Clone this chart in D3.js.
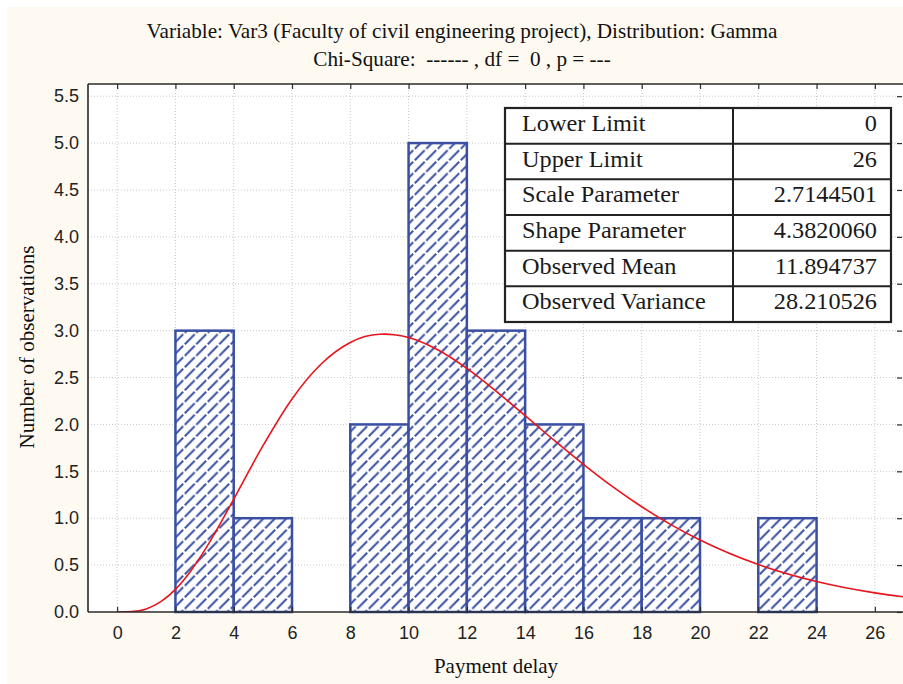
<!DOCTYPE html>
<html><head><meta charset="utf-8">
<script src="https://cdn.jsdelivr.net/npm/d3@7"></script>
<style>body{margin:0;background:#fff}svg{display:block}text{white-space:pre}</style>
</head><body><svg id="c" width="903" height="684"></svg>
<script>
const binStart=[2,4,8,10,12,14,16,18,22];
const binEnd=[4,6,10,12,14,16,18,20,24];
const counts=[3,1,2,5,3,2,1,1,1];
const curveX=[0,0.5,1,1.5,2,2.5,3,3.5,4,5,6,7,8,8.5,9,9.2,9.5,10,11,12,13,14,15,16,17,18,19,20,22,24,26,27];
const curveY=[0,0.004,0.033,0.110,0.241,0.427,0.657,0.921,1.204,1.771,2.272,2.644,2.874,2.937,2.962,2.963,2.957,2.927,2.796,2.597,2.355,2.093,1.829,1.574,1.336,1.122,0.932,0.767,0.506,0.325,0.204,0.161];
const xTicks=[0,2,4,6,8,10,12,14,16,18,20,22,24,26];
const yTicks=[0,0.5,1,1.5,2,2.5,3,3.5,4,4.5,5,5.5];
const tableLabels=["Lower Limit","Upper Limit","Scale Parameter","Shape Parameter","Observed Mean","Observed Variance"];
const tableValues=["0","26","2.7144501","4.3820060","11.894737","28.210526"];
const titleLines=["Variable: Var3 (Faculty of civil engineering project), Distribution: Gamma","Chi-Square:  ------ , df =  0 , p = ---"];
const xTitle="Payment delay";
const yTitle="Number of observations";

const svg=d3.select("#c");
const L=88,R=903,T=84,B=612;
const x=d3.scaleLinear().domain([-1,27]).range([L,904]);
const y=d3.scaleLinear().domain([0,5.63]).range([B,T]);
const serif="'Liberation Serif','Times New Roman',serif";
const sans="'Liberation Sans',Arial,sans-serif";
const blue="#3a4fa2";

svg.append("rect").attr("x",7).attr("y",7).attr("width",896).attr("height",677).attr("fill","#fefaf2");
svg.append("rect").attr("x",L).attr("y",T).attr("width",R-L).attr("height",B-T).attr("fill","#fff");

const defs=svg.append("defs");
const pat=defs.append("pattern").attr("id","hatch").attr("patternUnits","userSpaceOnUse")
  .attr("width",11.5).attr("height",11.5);
pat.append("rect").attr("width",11.5).attr("height",11.5).attr("fill","#fff");
pat.append("line").attr("x1",0.8).attr("y1",10.7).attr("x2",10.7).attr("y2",0.8)
  .attr("stroke",blue).attr("stroke-width",2);
defs.append("clipPath").attr("id","clip").append("rect").attr("x",L).attr("y",T).attr("width",R-L).attr("height",B-T);

// grid
const grid=svg.append("g").attr("stroke","#c9c9c9").attr("stroke-width",1).attr("stroke-dasharray","1,2");
grid.selectAll(".gx").data(xTicks).join("line").attr("x1",d=>x(d)).attr("x2",d=>x(d)).attr("y1",T).attr("y2",B);
grid.selectAll(".gy").data(yTicks.filter(d=>d>0)).join("line").attr("y1",d=>y(d)).attr("y2",d=>y(d)).attr("x1",L).attr("x2",R);

// bars
svg.append("g").selectAll("rect").data(counts).join("rect")
  .attr("x",(d,i)=>x(binStart[i])).attr("width",(d,i)=>x(binEnd[i])-x(binStart[i]))
  .attr("y",d=>y(d)).attr("height",d=>y(0)-y(d))
  .attr("fill","url(#hatch)").attr("stroke",blue).attr("stroke-width",2.5);

// curve
const pts=curveX.map((v,i)=>[v,curveY[i]]);
svg.append("path").datum(pts).attr("clip-path","url(#clip)")
  .attr("d",d3.line().x(d=>x(d[0])).y(d=>y(d[1])).curve(d3.curveMonotoneX))
  .attr("fill","none").attr("stroke","#e8141c").attr("stroke-width",1.6);

// axes
const axC="#2a2a2a";
const gb=svg.append("g").attr("transform",`translate(0,${B})`)
  .call(d3.axisBottom(x).tickValues(xTicks).tickSizeInner(-5).tickSizeOuter(0).tickPadding(14));
const gt=svg.append("g").attr("transform",`translate(0,${T})`)
  .call(d3.axisTop(x).tickValues(xTicks).tickSizeInner(-5).tickSizeOuter(0).tickFormat(""));
const gl=svg.append("g").attr("transform",`translate(${L},0)`)
  .call(d3.axisLeft(y).tickValues(yTicks).tickSizeInner(0).tickSizeOuter(0).tickPadding(9).tickFormat(d3.format(".1f")));
const gr=svg.append("g").attr("transform",`translate(${R-1},0)`)
  .call(d3.axisRight(y).tickValues(yTicks).tickSizeInner(-5).tickSizeOuter(0).tickFormat(""));
[gb,gt,gl,gr].forEach(g=>{
  g.select(".domain").remove();
  g.selectAll(".tick line").attr("stroke",axC).attr("stroke-width",1.2);
  g.selectAll("text").attr("font-family",sans).attr("font-size",18).attr("fill","#222");
});
svg.append("line").attr("x1",L).attr("x2",R).attr("y1",B).attr("y2",B).attr("stroke",axC).attr("stroke-width",1.6);
svg.append("line").attr("x1",L).attr("x2",R).attr("y1",T).attr("y2",T).attr("stroke",axC).attr("stroke-width",1.6);
svg.append("line").attr("x1",L).attr("x2",L).attr("y1",T).attr("y2",B).attr("stroke",axC).attr("stroke-width",1.6);

// titles
svg.selectAll(".tt").data(titleLines).join("text")
  .attr("x",462).attr("y",(d,i)=>38+i*28).attr("text-anchor","middle")
  .attr("font-family",serif).attr("font-size",21.2).attr("fill","#111").text(d=>d);
svg.append("text").attr("x",496).attr("y",673).attr("text-anchor","middle")
  .attr("font-family",serif).attr("font-size",21).attr("fill","#111").text(xTitle);
svg.append("text").attr("transform","translate(34,347) rotate(-90)").attr("text-anchor","middle")
  .attr("font-family",serif).attr("font-size",21).attr("fill","#111").text(yTitle);

// table
const tx0=505,tx1=891,tc=733,ty0=108,rh=(322-108)/tableLabels.length;
const tb=svg.append("g");
tb.append("rect").attr("x",tx0).attr("y",ty0).attr("width",tx1-tx0).attr("height",rh*tableLabels.length)
  .attr("fill","#fff").attr("stroke","#222").attr("stroke-width",2.2);
tb.selectAll(".rl").data(tableLabels.slice(1)).join("line")
  .attr("x1",tx0).attr("x2",tx1).attr("y1",(d,i)=>ty0+(i+1)*rh).attr("y2",(d,i)=>ty0+(i+1)*rh)
  .attr("stroke","#222").attr("stroke-width",2);
tb.append("line").attr("x1",tc).attr("x2",tc).attr("y1",ty0).attr("y2",ty0+rh*tableLabels.length)
  .attr("stroke","#222").attr("stroke-width",2);
tb.selectAll(".lab").data(tableLabels).join("text")
  .attr("transform",(d,i)=>`translate(522,${ty0+i*rh+23}) scale(1.08,1)`)
  .attr("font-family",serif).attr("font-size",22.5).attr("fill","#1a1a1a").text(d=>d);
tb.selectAll(".val").data(tableValues).join("text")
  .attr("transform",(d,i)=>`translate(877,${ty0+i*rh+23}) scale(1.08,1)`).attr("text-anchor","end")
  .attr("font-family",serif).attr("font-size",22.5).attr("fill","#1a1a1a").text(d=>d);
</script></body></html>
